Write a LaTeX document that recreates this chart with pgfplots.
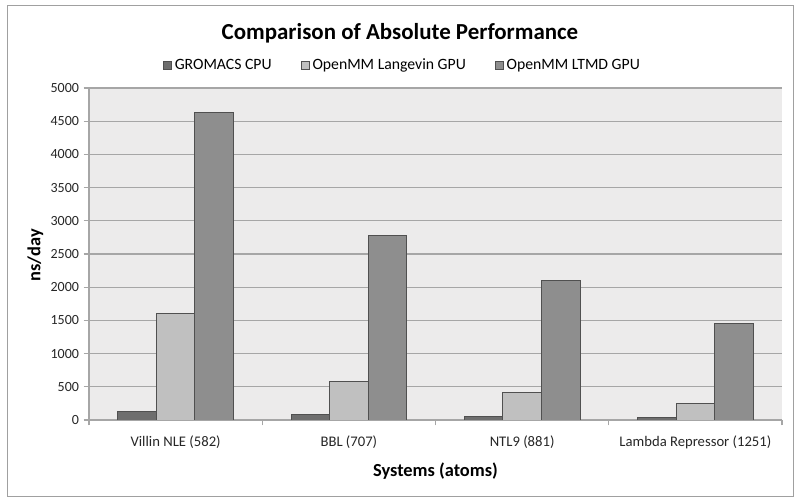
\documentclass[border=0pt]{standalone}
\usepackage{pgfplots}
\pgfplotsset{compat=1.18}
\usepackage{fontspec}
\setmainfont{Carlito}
\definecolor{bgc}{HTML}{ECEBEB}
\definecolor{gridc}{HTML}{A6A6A6}
\definecolor{framec}{HTML}{A0A0A0}
\definecolor{cA}{HTML}{6E6E6E}
\definecolor{cB}{HTML}{C0C0C0}
\definecolor{cC}{HTML}{8E8E8E}
\definecolor{edgec}{HTML}{505050}
\begin{document}
\begin{tikzpicture}
\path (0pt,0pt) rectangle (600pt,377.25pt);
\draw[framec, line width=0.75pt] (5.25pt,4.5pt) rectangle (594.75pt,372.75pt);
\begin{axis}[
  at={(66.75pt,62.25pt)}, anchor=south west,
  scale only axis, width=519.75pt, height=249pt,
  xmin=-0.5, xmax=3.5, ymin=0, ymax=5000,
  ybar=0pt, bar width=28.9pt,
  xtick={-0.5,0.5,1.5,2.5,3.5}, xticklabels={},
  extra x ticks={0,1,2,3},
  extra x tick labels={Villin NLE (582),BBL (707),NTL9 (881),Lambda Repressor (1251)},
  extra x tick style={major tick length=0pt, grid=none,
     tick label style={yshift=-8pt, font=\fontsize{11}{13}\selectfont}},
  ytick={0,500,...,5000},
  ymajorgrids, grid style={gridc, line width=0.9pt},
  axis x line*=bottom, axis y line*=left,
  axis line style={gridc, line width=0.9pt},
  tick style={gridc, line width=0.9pt},
  tick align=outside, major tick length=4pt,
  /pgf/number format/.cd, 1000 sep={}, assume math mode=true, /pgfplots/.cd,
  tick label style={font=\fontsize{10.5}{12}\selectfont, color=black!85},
  axis background/.style={fill=bgc},
  legend style={at={(0.453,1.068)}, anchor=center, draw=none, fill=none,
    legend columns=3, font=\fontsize{11.8}{14}\selectfont,
    /tikz/every even column/.append style={column sep=20pt}},
  legend image code/.code={\draw[#1] (0pt,-3pt) rectangle (6pt,3pt);},
]
\addplot[fill=cA, draw=edgec, line width=0.6pt] coordinates {(0,125) (1,85) (2,60) (3,35)};
\addplot[fill=cB, draw=edgec, line width=0.6pt] coordinates {(0,1610) (1,585) (2,410) (3,255)};
\addplot[fill=cC, draw=edgec, line width=0.6pt] coordinates {(0,4630) (1,2785) (2,2095) (3,1450)};
\legend{GROMACS CPU,OpenMM Langevin GPU,OpenMM LTMD GPU}
\end{axis}
\node[font=\fontsize{17.2}{20}\selectfont\bfseries] at (300pt,352pt) {Comparison of Absolute Performance};
\node[font=\fontsize{13.8}{16}\selectfont\bfseries] at (326.6pt,24pt) {Systems (atoms)};
\node[font=\fontsize{13.8}{16}\selectfont\bfseries, rotate=90] at (26.5pt,186pt) {ns/day};
\end{tikzpicture}
\end{document}
